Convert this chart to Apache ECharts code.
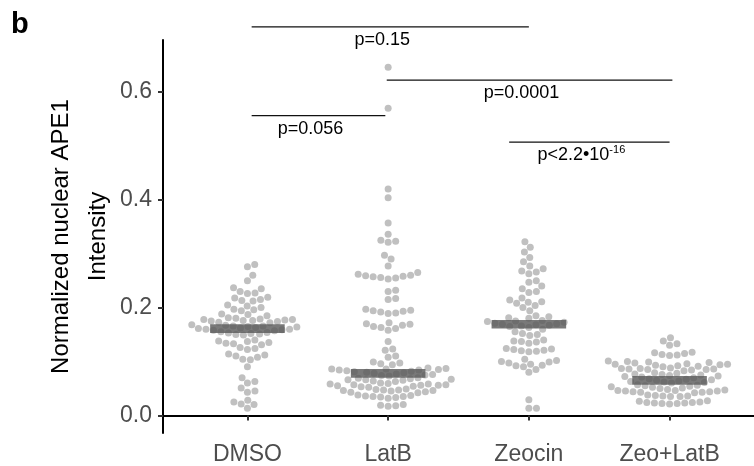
<!DOCTYPE html>
<html>
<head>
<meta charset="utf-8">
<script src="https://cdn.jsdelivr.net/npm/echarts@6/dist/echarts.min.js"></script>
<style>
  html, body { margin: 0; padding: 0; background: #fff; }
  #chart { width: 754px; height: 466px; }
</style>
</head>
<body>
<div id="chart"></div>
<script>
// groups on the x axis
const categories = ['DMSO', 'LatB', 'Zeocin', 'Zeo+LatB'];

// per-cell values
const dmso = [
  0.280, 0.276, 0.260, 0.250, 0.237, 0.235, 0.230, 0.227, 0.226, 0.219, 0.218, 0.215, 0.213, 0.212,
  0.205, 0.203, 0.200, 0.197, 0.196, 0.194, 0.188, 0.187, 0.185,
  0.181, 0.180, 0.179, 0.178, 0.178, 0.177, 0.176, 0.176, 0.175, 0.174, 0.173, 0.172,
  0.168, 0.167, 0.166, 0.166, 0.165, 0.164, 0.163, 0.162, 0.161, 0.160, 0.160, 0.159, 0.158, 0.157,
  0.155, 0.154, 0.153, 0.152, 0.151, 0.150, 0.149,
  0.140, 0.138, 0.137, 0.135, 0.134, 0.133, 0.131,
  0.126, 0.124, 0.122,
  0.114, 0.112, 0.110, 0.108, 0.104, 0.103,
  0.090, 0.070, 0.063, 0.060, 0.051, 0.045, 0.043, 0.028, 0.025, 0.021, 0.020, 0.013
];
const latb = [
  0.646, 0.570, 0.420, 0.404, 0.357, 0.336, 0.325, 0.323, 0.321, 0.297, 0.290, 0.277,
  0.265, 0.262, 0.260, 0.259, 0.258, 0.257, 0.256, 0.255, 0.253,
  0.232, 0.230, 0.217, 0.215,
  0.197, 0.195, 0.194, 0.193, 0.192, 0.190, 0.189,
  0.172, 0.170, 0.169, 0.167, 0.165, 0.163, 0.161, 0.158,
  0.137, 0.123, 0.121, 0.110, 0.108,
  0.099, 0.097, 0.096, 0.094,
  0.088, 0.087, 0.086, 0.086, 0.085, 0.084, 0.084, 0.083,
  0.082, 0.081, 0.080, 0.079, 0.078, 0.077, 0.076, 0.075, 0.074, 0.073,
  0.070, 0.069, 0.068, 0.067, 0.066, 0.066, 0.065, 0.064, 0.063,
  0.060, 0.059, 0.058, 0.058, 0.057, 0.057, 0.056, 0.056, 0.055, 0.054, 0.053, 0.052,
  0.049, 0.048, 0.047, 0.047, 0.046, 0.046, 0.045, 0.044, 0.043, 0.042,
  0.038, 0.037, 0.036, 0.035, 0.035, 0.034, 0.033, 0.032,
  0.020, 0.019, 0.018, 0.017
];
const zeocin = [
  0.322, 0.312, 0.303, 0.293, 0.285, 0.277, 0.272, 0.268, 0.266, 0.263,
  0.250, 0.247, 0.240, 0.235, 0.230, 0.228, 0.218, 0.214, 0.211, 0.210, 0.208, 0.204, 0.200, 0.194,
  0.185, 0.183, 0.181, 0.180, 0.176, 0.175, 0.174, 0.173,
  0.171, 0.170, 0.169, 0.168, 0.167, 0.166, 0.165, 0.163, 0.160,
  0.155, 0.152, 0.150, 0.148, 0.140, 0.138, 0.137, 0.136, 0.134,
  0.124, 0.123, 0.122, 0.121, 0.120, 0.119, 0.118,
  0.104, 0.102, 0.100, 0.099, 0.097, 0.095, 0.093, 0.092, 0.090, 0.085, 0.080,
  0.029, 0.013, 0.013
];
const zeoLatb = [
  0.144, 0.138, 0.133, 0.130,
  0.117, 0.116, 0.115, 0.113, 0.112, 0.111,
  0.101, 0.100, 0.099, 0.098, 0.097, 0.096, 0.095, 0.095, 0.094, 0.093, 0.092, 0.091, 0.090,
  0.088, 0.087, 0.087, 0.086, 0.086, 0.085, 0.085, 0.084, 0.083,
  0.079, 0.078, 0.077, 0.076, 0.075, 0.074, 0.073, 0.072, 0.071, 0.070,
  0.068, 0.067, 0.066, 0.065, 0.064, 0.063, 0.062, 0.061, 0.060,
  0.057, 0.056, 0.055, 0.054, 0.053, 0.052, 0.051, 0.050,
  0.048, 0.047, 0.046, 0.046, 0.045, 0.045, 0.044, 0.044, 0.043, 0.043, 0.042,
  0.038, 0.037, 0.036, 0.036, 0.035, 0.035,
  0.027, 0.026, 0.025, 0.024, 0.024, 0.023, 0.023, 0.022, 0.022, 0.021
];
const groups = [dmso, latb, zeocin, zeoLatb];

// median bar of each group
const medians = [0.161, 0.078, 0.169, 0.065];

const yTicks = [0, 0.2, 0.4, 0.6];

// comparison brackets: group positions (1-based), height, p value
const bracketFrom = [1.03, 1.99, 1.03, 2.86];
const bracketTo = [3.0, 4.02, 1.98, 4.0];
const bracketY = [0.721, 0.622, 0.556, 0.507];
const bracketLabel = ['p=0.15', 'p=0.0001', 'p=0.056', 'p<2.2•10{s|-16}'];

const FONT = "'Liberation Sans', Arial, sans-serif";
const DOT = 7;

const chart = echarts.init(document.getElementById('chart'));

const option = {
  backgroundColor: '#fff',
  animation: false,
  title: {
    text: 'b', left: 6, top: 5,
    textStyle: { fontFamily: FONT, fontSize: 29, fontWeight: 'bold', color: '#000' }
  },
  grid: { left: 163, top: 40, width: 595, height: 395 },
  xAxis: {
    type: 'value', min: 0.4, max: 4.6,
    splitLine: { show: false },
    axisLine: { lineStyle: { color: '#000', width: 2 } },
    axisTick: { customValues: [1, 2, 3, 4], length: 5, lineStyle: { color: '#333', width: 2 } },
    axisLabel: {
      customValues: [1, 2, 3, 4],
      formatter: v => categories[Math.round(v) - 1],
      fontFamily: FONT, fontSize: 23, color: '#4d4d4d', margin: 10
    }
  },
  yAxis: {
    type: 'value', min: -0.0327, max: 0.6965,
    name: 'Normalized nuclear APE1\nIntensity',
    nameLocation: 'middle', nameGap: 46, nameMoveOverlap: false,
    nameTextStyle: { fontFamily: FONT, fontSize: 24, color: '#000', lineHeight: 37 },
    splitLine: { show: false },
    axisLine: { show: true, lineStyle: { color: '#000', width: 2 } },
    axisTick: { show: true, customValues: yTicks, length: 5, lineStyle: { color: '#333', width: 2 } },
    axisLabel: {
      customValues: yTicks,
      formatter: v => v.toFixed(1),
      fontFamily: FONT, fontSize: 23, color: '#4d4d4d', margin: 11
    }
  },
  series: []
};
chart.setOption(option);

// beeswarm offsets in pixels, lowest value placed first
function swarm(ys, d) {
  const order = ys.map((y, i) => i).sort((a, b) => ys[b] - ys[a]);
  const placed = [];
  const xs = new Array(ys.length);
  order.forEach(i => {
    const y = ys[i];
    const near = placed.filter(p => Math.abs(p.y - y) < d);
    const cands = [0];
    near.forEach(p => {
      const dx = Math.sqrt(d * d - (p.y - y) * (p.y - y));
      cands.push(p.x + dx, p.x - dx);
    });
    cands.sort((a, b) => Math.abs(a) - Math.abs(b));
    const x = cands.find(c => near.every(p => (p.x - c) ** 2 + (p.y - y) ** 2 >= d * d - 0.01));
    xs[i] = x;
    placed.push({ x, y });
  });
  return xs;
}

const pxPerX = chart.convertToPixel({ xAxisIndex: 0 }, 2) - chart.convertToPixel({ xAxisIndex: 0 }, 1);
const dots = [];
groups.forEach((vals, gi) => {
  const ys = vals.map(v => chart.convertToPixel({ yAxisIndex: 0 }, v));
  const xs = swarm(ys, DOT + 0.6);
  vals.forEach((v, k) => dots.push([gi + 1 + xs[k] / pxPerX, v]));
});

chart.setOption({
  series: [
    {
      type: 'scatter',
      data: dots,
      symbolSize: DOT,
      itemStyle: { color: '#c0c0c0', opacity: 1 },
      z: 2
    },
    {
      type: 'custom',
      data: medians.map((m, i) => [i + 1, m]),
      renderItem: (params, api) => {
        const c = api.coord([api.value(0), api.value(1)]);
        const w = api.size([0.53, 0])[0];
        return {
          type: 'rect',
          shape: { x: c[0] - w / 2, y: c[1] - 4.3, width: w, height: 8.6 },
          style: { fill: 'rgba(88,88,88,0.8)' }
        };
      },
      z: 3
    },
    {
      type: 'custom',
      clip: false,
      data: bracketY.map((y, i) => [bracketFrom[i], bracketTo[i], y, i]),
      renderItem: (params, api) => {
        const i = api.value(3);
        const a = api.coord([api.value(0), api.value(2)]);
        const b = api.coord([api.value(1), api.value(2)]);
        return {
          type: 'group',
          children: [
            {
              type: 'line',
              shape: { x1: a[0], y1: a[1], x2: b[0], y2: b[1] },
              style: { stroke: '#111', lineWidth: 1.3 }
            },
            {
              type: 'text',
              x: (a[0] + b[0]) / 2 - 8, y: a[1] + 13,
              style: {
                text: bracketLabel[i],
                align: 'center', verticalAlign: 'middle',
                fontFamily: FONT, fontSize: 18, fill: '#000',
                rich: { s: { fontFamily: FONT, fontSize: 11, fill: '#000', padding: [0, 0, 10, 0] } }
              }
            }
          ]
        };
      },
      z: 4
    }
  ]
});
</script>
</body>
</html>
